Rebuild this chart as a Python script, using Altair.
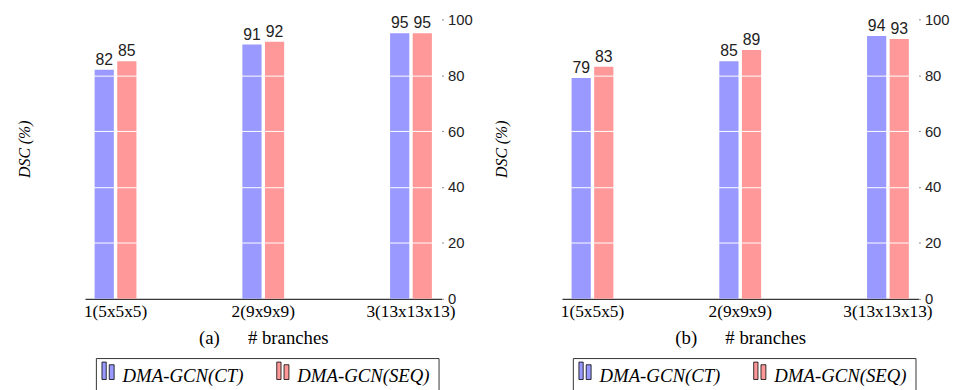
import altair as alt
import pandas as pd

categories = ["1(5x5x5)", "2(9x9x9)", "3(13x13x13)"]
series = ["DMA-GCN(CT)", "DMA-GCN(SEQ)"]
a_ct = [82, 91, 95]
a_seq = [85, 92, 95]
b_ct = [79, 85, 94]
b_seq = [83, 89, 93]
y_ticks = [0, 20, 40, 60, 80, 100]
grid_vals = [20, 40, 60, 80]
colors = ["#9999ff", "#ff9999"]

NB = "\u00a0"
SYM = "M-1.26,0.44V-1.52H-0.78V0.44Z M-0.44,0.44V-1.22H0.11V0.44Z"


def make_df(ct, seq):
    rows = []
    for c, v in zip(categories, ct):
        rows.append({"cat": c, "s": series[0], "v": v})
    for c, v in zip(categories, seq):
        rows.append({"cat": c, "s": series[1], "v": v})
    return pd.DataFrame(rows)


def panel(ct, seq, tag):
    df = make_df(ct, seq)
    base = alt.Chart(df).encode(
        x=alt.X(
            "cat:N",
            sort=categories,
            scale=alt.Scale(paddingInner=0.717, paddingOuter=0.065),
            axis=alt.Axis(
                title=f"({tag})" + NB * 6 + "# branches",
                labelAngle=0,
                ticks=False,
                domainColor="black",
                domainWidth=1,
                labelFont="Liberation Serif",
                labelFontSize=17.5,
                labelColor="black",
                labelPadding=4,
                titleFont="Liberation Serif",
                titleFontSize=19,
                titleFontWeight="normal",
                titleColor="black",
                titlePadding=9,
                grid=False,
            ),
        ),
        xOffset=alt.XOffset(
            "s:N", sort=series, scale=alt.Scale(paddingInner=0.15, paddingOuter=0)
        ),
    )
    bars = base.mark_bar().encode(
        y=alt.Y(
            "v:Q",
            scale=alt.Scale(domain=[0, 100]),
            axis=alt.Axis(
                orient="left",
                title="DSC (%)",
                titleFont="Liberation Serif",
                titleFontStyle="italic",
                titleFontWeight="normal",
                titleFontSize=16,
                titleColor="black",
                titleX=-61,
                titleY=131,
                titleAngle=270,
                titleAlign="center",
                titleBaseline="middle",
                labels=False,
                ticks=False,
                domain=False,
                grid=True,
                values=grid_vals,
                gridColor="white",
                gridWidth=1,
                gridOpacity=1,
                zindex=1,
            ),
        ),
        color=alt.Color(
            "s:N",
            sort=series,
            scale=alt.Scale(domain=series, range=colors),
            legend=alt.Legend(
                orient="none",
                legendX=11,
                legendY=343,
                direction="horizontal",
                title=None,
                symbolType=SYM,
                symbolSize=324,
                symbolStrokeColor="black",
                symbolStrokeWidth=0.8,
                labelFont="Liberation Serif",
                labelFontStyle="italic",
                labelFontSize=19,
                labelColor="black",
                labelOffset=0,
                columnPadding=31,
                padding=8,
                strokeColor="#333333",
                fillColor="white",
            ),
        ),
    )
    labels = base.mark_text(
        baseline="alphabetic",
        dy=-5,
        font="Liberation Sans",
        fontSize=16,
        color="#222222",
    ).encode(
        y=alt.Y(
            "v:Q",
            scale=alt.Scale(domain=[0, 100]),
            axis=alt.Axis(
                orient="right",
                title=None,
                values=y_ticks,
                grid=False,
                domain=False,
                tickSize=2,
                tickColor="#888888",
                labelFont="Liberation Sans",
                labelFontSize=15,
                labelColor="#222222",
                labelPadding=4,
            ),
        ),
        text=alt.Text("v:Q"),
    )
    return alt.layer(bars, labels).properties(width=361, height=283)


chart = (
    alt.hconcat(panel(a_ct, a_seq, "a"), panel(b_ct, b_seq, "b"), spacing=21)
    .resolve_scale(color="independent")
    .resolve_legend(color="independent")
    .properties(padding={"left": 9, "top": 2, "right": 5, "bottom": 5})
    .configure_view(stroke=None)
)

chart.save("out.html", embed_options={"renderer": "svg", "actions": False})
